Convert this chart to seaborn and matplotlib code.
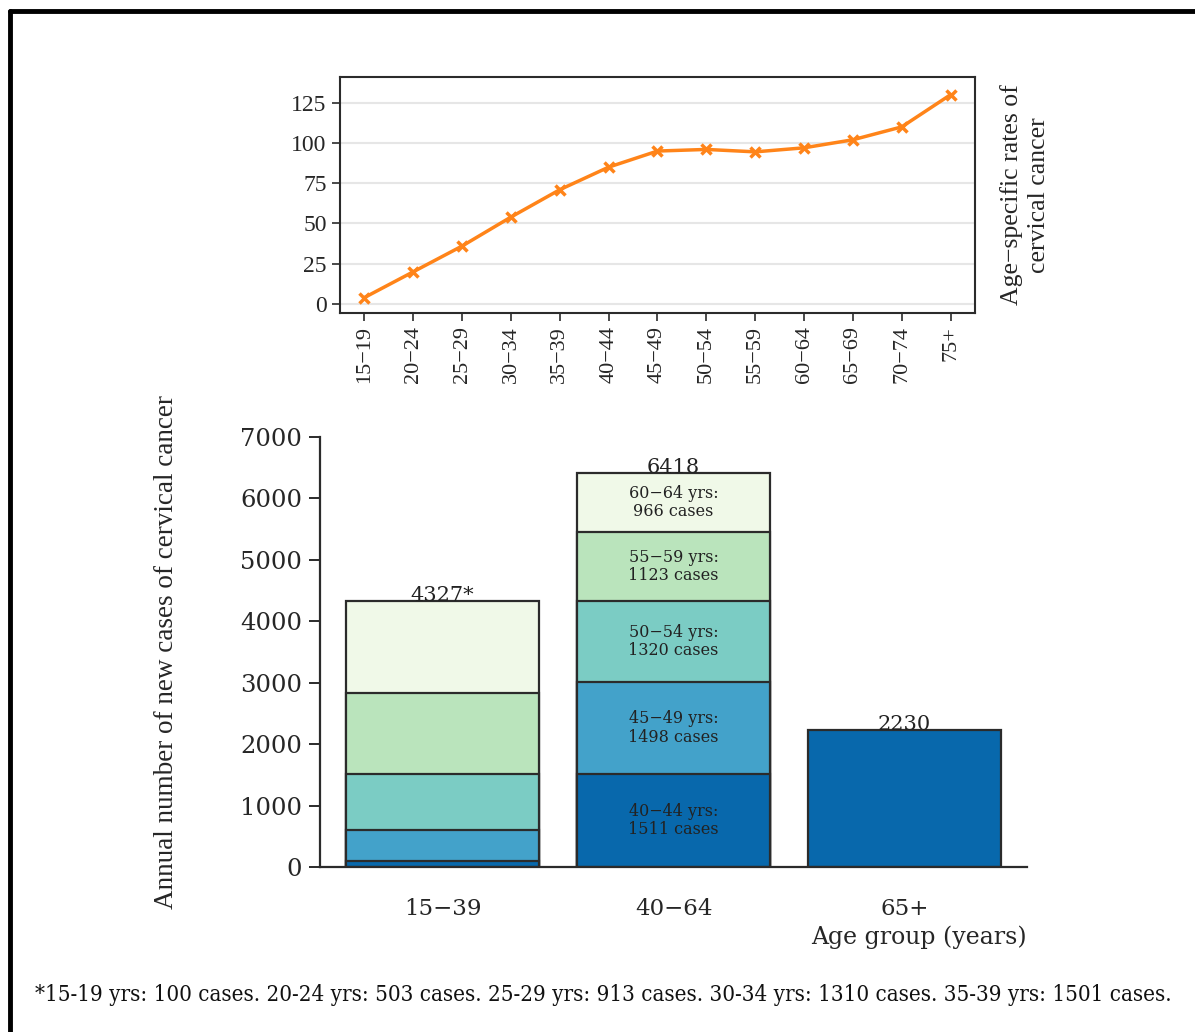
import matplotlib
matplotlib.use("Agg")
import matplotlib.pyplot as plt
from matplotlib.lines import Line2D
import seaborn as sns
import pandas as pd

# age-specific rates (top panel)
rate_ages = ['15−19', '20−24', '25−29', '30−34', '35−39', '40−44', '45−49',
             '50−54', '55−59', '60−64', '65−69', '70−74', '75+']
rates = [4, 20, 36, 54, 71, 85, 95, 96, 94.5, 97, 102, 110, 130]

# annual new cases (bottom panel)
groups = ['15−39', '40−64', '65+']
seg_15_39 = [100, 503, 913, 1310, 1501]
seg_40_64 = [1511, 1498, 1320, 1123, 966]
seg_65 = [2230]
seg_names_40_64 = ['40−44', '45−49', '50−54', '55−59', '60−64']
total_labels = ['4327*', '6418', '2230']
footnote = ('*15-19 yrs: 100 cases. 20-24 yrs: 503 cases. 25-29 yrs: 913 cases. '
            '30-34 yrs: 1310 cases. 35-39 yrs: 1501 cases.')

colors = ['#0868ac', '#43a2ca', '#7bccc4', '#bae4bc', '#f0f9e8']
edge = '#2b2b2b'

sns.set_theme(style='ticks')
plt.rcParams['font.family'] = ['Liberation Serif', 'DejaVu Serif']
plt.rcParams['axes.edgecolor'] = edge

fig = plt.figure(figsize=(11.95, 10.32), dpi=100)

# frame lines (left and top only, picture is cropped)
fig.add_artist(Line2D([0.0085, 0.0085], [0, 0.9895], transform=fig.transFigure,
                      color='black', lw=3.5))
fig.add_artist(Line2D([0.0085, 1], [0.9895, 0.9895], transform=fig.transFigure,
                      color='black', lw=3.5))

# ---- top: line chart
top_ax = fig.add_axes([0.2845, 0.6967, 0.5314, 0.2287])
rate_df = pd.DataFrame({'age': rate_ages, 'rate': rates})
sns.lineplot(data=rate_df, x='age', y='rate', ax=top_ax, color='#ff8419',
             lw=2.5, marker='x', markersize=7, markeredgewidth=2.5,
             markeredgecolor='#ff8419', sort=False)
top_ax.set_xlim(-0.5, 12.5)
top_ax.set_ylim(-5.6, 141)
top_ax.set_yticks([0, 25, 50, 75, 100, 125])
top_ax.grid(axis='y', color='#e6e6e6', lw=1.5)
top_ax.set_axisbelow(True)
for s in top_ax.spines.values():
    s.set_linewidth(1.5)
top_ax.tick_params(axis='y', labelsize=17, length=6, width=1.2, color=edge)
top_ax.tick_params(axis='x', labelsize=16, length=6, width=1.2, color=edge, rotation=90)
top_ax.set_xlabel('')
top_ax.yaxis.set_label_position('right')
top_ax.set_ylabel('Age−specific rates of\ncervical cancer', fontsize=18.5,
                  labelpad=18, linespacing=1.3)

# ---- bottom: stacked bars (cumulative layers, tallest first)
bar_ax = fig.add_axes([0.2678, 0.1599, 0.5916, 0.4167])
stacks = [seg_15_39, seg_40_64, seg_65]
for level in range(4, -1, -1):
    xs, hs = [], []
    for g, segs in zip(groups, stacks):
        if level < len(segs):
            xs.append(g)
            hs.append(sum(segs[:level + 1]))
    layer = pd.DataFrame({'group': xs, 'cases': hs})
    sns.barplot(data=layer, x='group', y='cases', order=groups, ax=bar_ax,
                color=colors[level], saturation=1, width=0.835,
                edgecolor=edge, linewidth=1.6)

# segment labels for 40-64
bottom = 0
for name, v in zip(seg_names_40_64, seg_40_64):
    bar_ax.text(1, bottom + v / 2, f'{name} yrs:\n{v} cases', ha='center', va='center',
                fontsize=11.5, family='DejaVu Serif', color='#222222', linespacing=1.1)
    bottom += v

for i, segs in enumerate(stacks):
    bar_ax.annotate(total_labels[i], (i, sum(segs)), xytext=(0, -3),
                    textcoords='offset points', ha='center', va='bottom',
                    fontsize=15, family='DejaVu Serif', color='#222222')

bar_ax.set_xlim(-0.53, 2.53)
bar_ax.set_ylim(0, 7000)
bar_ax.set_yticks(range(0, 7001, 1000))
sns.despine(ax=bar_ax)
for s in bar_ax.spines.values():
    s.set_linewidth(1.6)
bar_ax.tick_params(axis='y', labelsize=17.5, length=8, width=1.4, color=edge, pad=5)
bar_ax.tick_params(axis='x', labelsize=16.5, length=0, pad=22)
for lab in bar_ax.get_xticklabels() + bar_ax.get_yticklabels():
    lab.set_family('DejaVu Serif')
bar_ax.set_xlabel('Age group (years)', fontsize=17, family='DejaVu Serif', loc='right')
bar_ax.xaxis.set_label_coords(1.0, -0.135)
bar_ax.set_ylabel('Annual number of new cases of cervical cancer', fontsize=19.5)
bar_ax.yaxis.set_label_coords(-0.2, 0.5)

fig.text(0.029, 1 - 995 / 1032, footnote, ha='left', va='center', fontsize=16,
         family='DejaVu Serif', fontstretch='condensed', color='#111111')

fig.savefig('out.png', dpi=100, facecolor='white')
